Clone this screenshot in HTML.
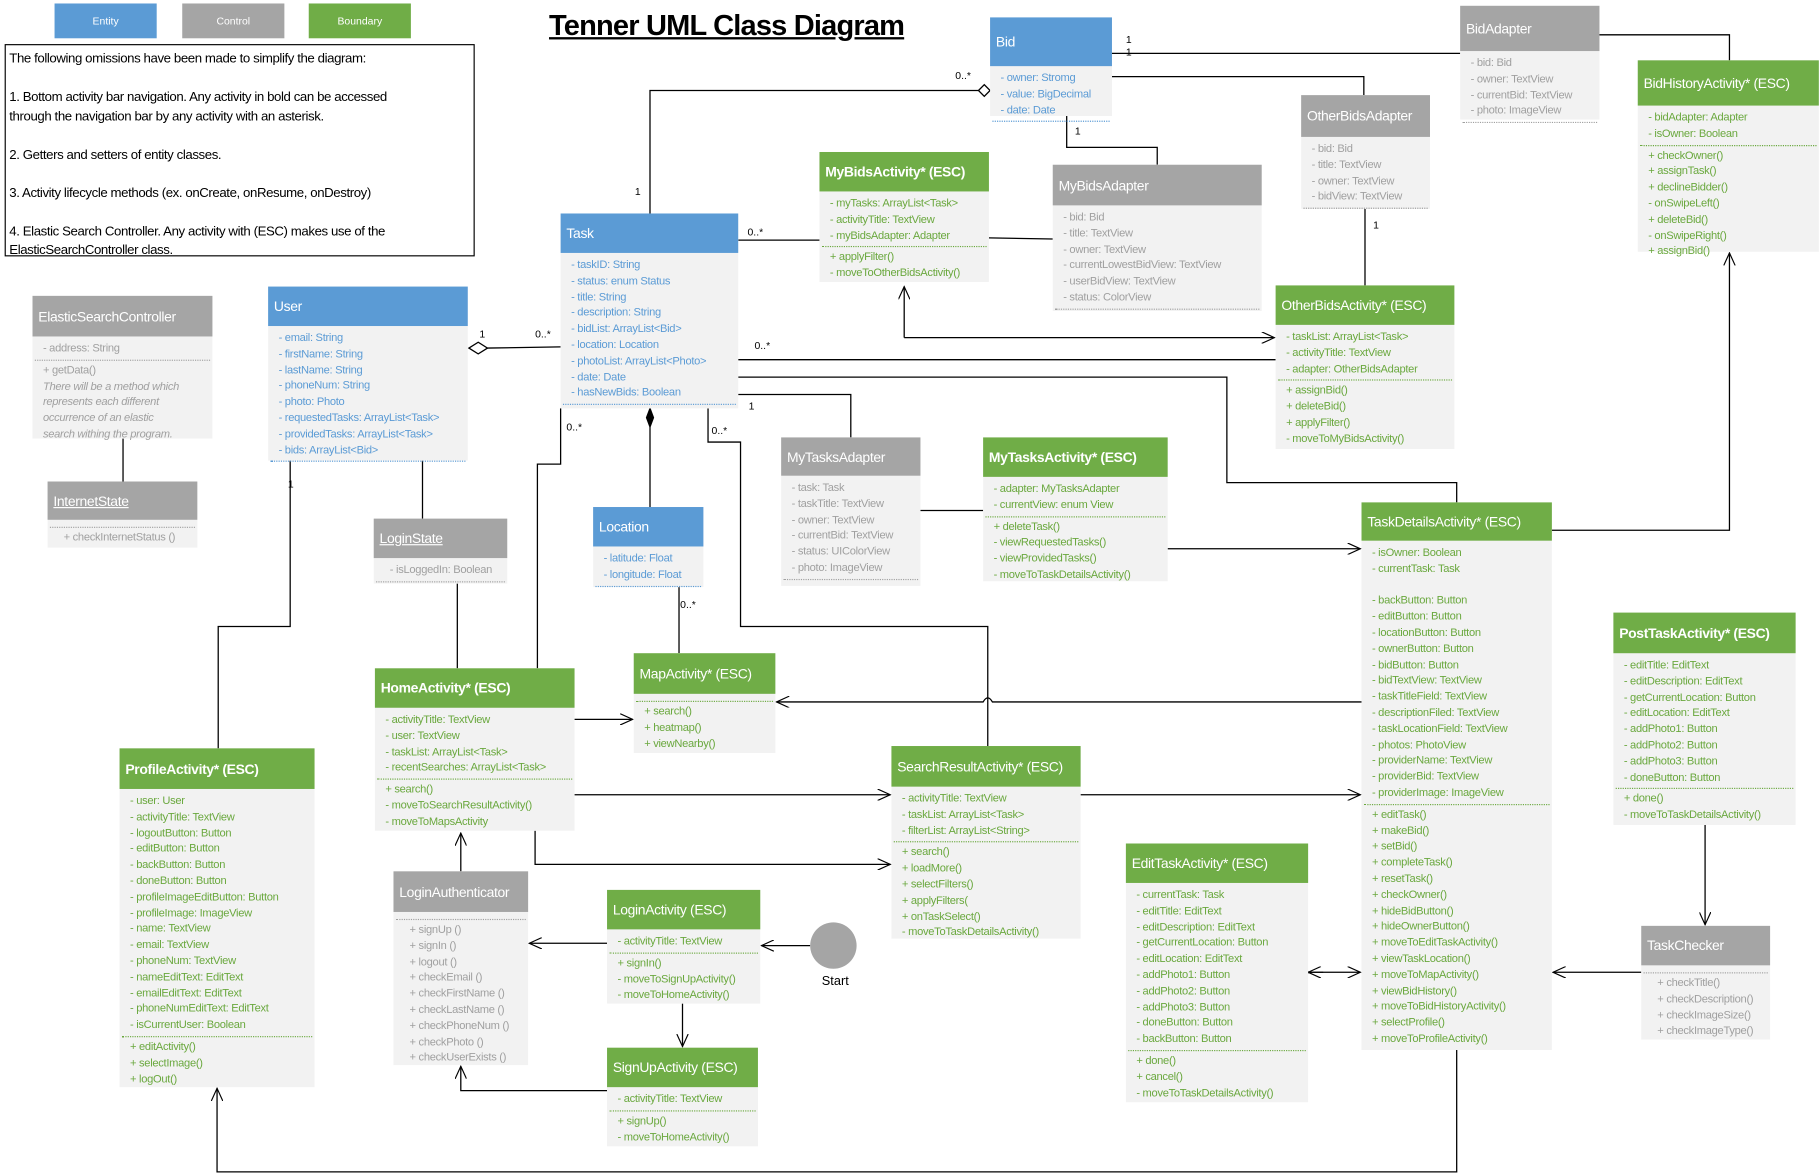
<!DOCTYPE html>
<html><head><meta charset="utf-8">
<style>
html,body{margin:0;padding:0;background:#fff;width:1820px;height:1173px;overflow:hidden}
#s{position:absolute;left:0;top:0;width:1568px;height:1011px;transform:scale(1.16071,1.16024);transform-origin:0 0;font-family:"Liberation Sans",sans-serif}
.b{position:absolute;background:#f2f2f2}
.h{color:#fff;font-size:12px;padding-left:5px;display:flex;align-items:center;white-space:nowrap;letter-spacing:-0.3px}
.c{font-size:9.6px;line-height:13.8px;padding:4px 4px 0 9px;white-space:nowrap;letter-spacing:-0.25px}
.c .s{border-top:1px dotted currentColor;margin:2px -2px 2px -7px;height:0}
.E .h{background:#5b9bd5}.E .c{color:#5b9bd5}
.C .h{background:#a5a5a5}.C .c{color:#a0a0a0}
.B .h{background:#70ad47}.B .c{color:#6aa83e}
.bold{font-weight:bold}
.lg{position:absolute;color:#fff;font-size:9px;display:flex;align-items:center;justify-content:center;height:30px;top:3px;width:88px}
svg{position:absolute;left:0;top:0}
.t{position:absolute;font-size:9px;color:#000}
</style></head><body><div id="s">

<div class="lg" style="left:47px;background:#5b9bd5">Entity</div>
<div class="lg" style="left:157px;background:#a5a5a5">Control</div>
<div class="lg" style="left:266px;background:#70ad47">Boundary</div>
<div style="position:absolute;left:473px;top:8px;font-size:25px;font-weight:bold;text-decoration:underline;letter-spacing:-0.7px;white-space:nowrap">Tenner UML Class Diagram</div>
<div style="position:absolute;left:4px;top:38px;width:405px;height:183px;border:1px solid #000;font-size:11.4px;line-height:16.5px;padding:4px 0 0 3px;box-sizing:border-box;letter-spacing:-0.35px">The following omissions have been made to simplify the diagram:<br><br>1. Bottom activity bar navigation. Any activity in bold can be accessed<br>through the navigation bar by any activity with an asterisk.<br><br>2. Getters and setters of entity classes.<br><br>3. Activity lifecycle methods (ex. onCreate, onResume, onDestroy)<br><br>4. Elastic Search Controller. Any activity with (ESC) makes use of the ElasticSearchController class.</div>

<svg width="1568" height="1011" viewBox="0 0 1568 1011">
<defs><marker id="a" markerWidth="12" markerHeight="10" refX="11" refY="5" orient="auto" markerUnits="userSpaceOnUse"><path d="M0,0 L11,5 L0,10" fill="none" stroke="#000" stroke-width="1"/></marker></defs>
<g fill="none" stroke="#000" stroke-width="1.1">
<polyline points="560,184 560,78 843,78"/><path d="M843,78 L848,73 L853,78 L848,83 Z" fill="#fff"/>
<line x1="958" y1="46" x2="1258" y2="46"/>
<polyline points="958,66 1175,66 1175,82"/>
<polyline points="1378,30 1490,30 1490,52"/>
<polyline points="919,100 919,127 997,127 997,142"/>
<line x1="1176" y1="180" x2="1176" y2="246"/>
<line x1="636" y1="207" x2="706" y2="207"/>
<line x1="852" y1="205" x2="907" y2="206"/>
<polyline points="779,291 779,247" marker-end="url(#a)"/>
<polyline points="779,291 1098,291" marker-end="url(#a)"/>
<line x1="636" y1="310" x2="1099" y2="310"/>
<polyline points="636,325 1057,325 1057,416 1255,416 1255,433"/>
<polyline points="636,340 733,340 733,377"/>
<line x1="420" y1="300" x2="483" y2="299"/><path d="M404,300 L412,295 L420,300 L412,305 Z" fill="#fff"/>
<polyline points="483,352 483,400 463,400 463,576"/>
<line x1="560" y1="368" x2="560" y2="437"/><path d="M560,352 L563,360 L560,368 L557,360 Z" fill="#000"/>
<polyline points="610,352 610,381 638,381 638,540 851,540 851,643"/>
<line x1="585" y1="506" x2="585" y2="563"/>
<line x1="793" y1="440" x2="847" y2="440"/>
<line x1="1006" y1="473" x2="1172" y2="473" marker-end="url(#a)"/>
<line x1="106" y1="378" x2="106" y2="415"/>
<polyline points="250,397 250,540 188,540 188,645"/>
<line x1="364" y1="397" x2="364" y2="447"/>
<line x1="394" y1="503" x2="394" y2="576"/>
<line x1="495" y1="620" x2="545" y2="620" marker-end="url(#a)"/>
<path d="M1173,605 L855,605 Q851,598 847,605 L669,605" marker-end="url(#a)"/>
<line x1="495" y1="685" x2="767" y2="685" marker-end="url(#a)"/>
<line x1="931" y1="685" x2="1172" y2="685" marker-end="url(#a)"/>
<polyline points="461,716 461,745 767,745" marker-end="url(#a)"/>
<line x1="397" y1="751" x2="397" y2="718" marker-end="url(#a)"/>
<line x1="523" y1="813" x2="456" y2="813" marker-end="url(#a)"/>
<line x1="698" y1="815" x2="656" y2="815" marker-end="url(#a)"/>
<line x1="588" y1="865" x2="588" y2="902" marker-end="url(#a)"/>
<polyline points="523,940 397,940 397,919" marker-end="url(#a)"/>
<polyline points="1255,905 1255,1010 187,1010 187,938" marker-end="url(#a)"/>
<line x1="1128" y1="838" x2="1172" y2="838" marker-end="url(#a)" marker-start="url(#a)"/>
<line x1="1414" y1="838" x2="1338" y2="838" marker-end="url(#a)"/>
<line x1="1469" y1="711" x2="1469" y2="797" marker-end="url(#a)"/>
<polyline points="1337,457 1490,457 1490,218" marker-end="url(#a)"/>
</g>
<defs><marker id="b" markerWidth="12" markerHeight="10" refX="1" refY="5" orient="auto" markerUnits="userSpaceOnUse"><path d="M11,0 L0,5 L11,10" fill="none" stroke="#000"/></marker></defs>
<line x1="1128" y1="838" x2="1140" y2="838" stroke="#000" marker-start="url(#b)"/>
<circle cx="718" cy="815" r="20" fill="#a5a5a5"/>
</svg>
<div class="t" style="left:708px;top:840px;font-size:11px">Start</div>
<div class="t" style="left:547px;top:160px">1</div>
<div class="t" style="left:823px;top:60px">0..*</div>
<div class="t" style="left:970px;top:29px">1</div>
<div class="t" style="left:970px;top:40px">1</div>
<div class="t" style="left:926px;top:108px">1</div>
<div class="t" style="left:1183px;top:189px">1</div>
<div class="t" style="left:644px;top:195px">0..*</div>
<div class="t" style="left:650px;top:293px">0..*</div>
<div class="t" style="left:645px;top:345px">1</div>
<div class="t" style="left:413px;top:283px">1</div>
<div class="t" style="left:461px;top:283px">0..*</div>
<div class="t" style="left:488px;top:363px">0..*</div>
<div class="t" style="left:613px;top:366px">0..*</div>
<div class="t" style="left:586px;top:516px">0..*</div>
<div class="t" style="left:248px;top:412px">1</div>

<div class="b E" style="left:853px;top:15px;width:105px;height:85px"><div class="h" style="height:42px">Bid</div><div class="c">- owner: Stromg<br>- value: BigDecimal<br>- date: Date<div class="s"></div></div></div>
<div class="b C" style="left:1258px;top:5px;width:120px;height:98px"><div class="h" style="height:39px">BidAdapter</div><div class="c">- bid: Bid<br>- owner: TextView<br>- currentBid: TextView<br>- photo: ImageView<div class="s"></div></div></div>
<div class="b B" style="left:1411px;top:52px;width:156px;height:165px"><div class="h" style="height:39px">BidHistoryActivity* (ESC)</div><div class="c">- bidAdapter: Adapter<br>- isOwner: Boolean<div class="s"></div>+ checkOwner()<br>+ assignTask()<br>+ declineBidder()<br>- onSwipeLeft()<br>+ deleteBid()<br>- onSwipeRight()<br>+ assignBid()</div></div>
<div class="b C" style="left:1121px;top:82px;width:111px;height:98px"><div class="h" style="height:36px">OtherBidsAdapter</div><div class="c">- bid: Bid<br>- title: TextView<br>- owner: TextView<br>- bidView: TextView<div class="s"></div></div></div>
<div class="b B" style="left:706px;top:131px;width:146px;height:112px"><div class="h bold" style="height:34px">MyBidsActivity* (ESC)</div><div class="c">- myTasks: ArrayList&lt;Task&gt;<br>- activityTitle: TextView<br>- myBidsAdapter: Adapter<div class="s"></div>+ applyFilter()<br>- moveToOtherBidsActivity()</div></div>
<div class="b C" style="left:907px;top:142px;width:180px;height:126px"><div class="h" style="height:35px">MyBidsAdapter</div><div class="c">- bid: Bid<br>- title: TextView<br>- owner: TextView<br>- currentLowestBidView: TextView<br>- userBidView: TextView<br>- status: ColorView<div class="s"></div></div></div>
<div class="b B" style="left:1099px;top:246px;width:154px;height:141px"><div class="h" style="height:34px">OtherBidsActivity* (ESC)</div><div class="c">- taskList: ArrayList&lt;Task&gt;<br>- activityTitle: TextView<br>- adapter: OtherBidsAdapter<div class="s"></div>+ assignBid()<br>+ deleteBid()<br>+ applyFilter()<br>- moveToMyBidsActivity()</div></div>
<div class="b E" style="left:483px;top:184px;width:153px;height:168px"><div class="h" style="height:34px">Task</div><div class="c">- taskID: String<br>- status: enum Status<br>- title: String<br>- description: String<br>- bidList: ArrayList&lt;Bid&gt;<br>- location: Location<br>- photoList: ArrayList&lt;Photo&gt;<br>- date: Date<br>- hasNewBids: Boolean<div class="s"></div></div></div>
<div class="b E" style="left:231px;top:247px;width:172px;height:150px"><div class="h" style="height:34px">User</div><div class="c">- email: String<br>- firstName: String<br>- lastName: String<br>- phoneNum: String<br>- photo: Photo<br>- requestedTasks: ArrayList&lt;Task&gt;<br>- providedTasks: ArrayList&lt;Task&gt;<br>- bids: ArrayList&lt;Bid&gt;<div class="s"></div></div></div>
<div class="b C" style="left:28px;top:255px;width:155px;height:123px"><div class="h" style="height:35px">ElasticSearchController</div><div class="c">- address: String<div class="s"></div>+ getData()<br><i>There will be a method which<br>represents each different<br>occurrence of an elastic<br>search withing the program.</i></div></div>
<div class="b C" style="left:41px;top:415px;width:129px;height:57px"><div class="h" style="height:33px;text-decoration:underline">InternetState</div><div class="c"><div class="s"></div>&nbsp;&nbsp;+ checkInternetStatus ()</div></div>
<div class="b C" style="left:322px;top:447px;width:115px;height:56px"><div class="h" style="height:34px;text-decoration:underline">LoginState</div><div class="c">&nbsp;&nbsp;- isLoggedIn: Boolean<div class="s"></div></div></div>
<div class="b E" style="left:511px;top:437px;width:95px;height:69px"><div class="h" style="height:34px">Location</div><div class="c">- latitude: Float<br>- longitude: Float<div class="s"></div></div></div>
<div class="b C" style="left:673px;top:377px;width:120px;height:128px"><div class="h" style="height:33px">MyTasksAdapter</div><div class="c">- task: Task<br>- taskTitle: TextView<br>- owner: TextView<br>- currentBid: TextView<br>- status: UIColorView<br>- photo: ImageView<div class="s"></div></div></div>
<div class="b B" style="left:847px;top:377px;width:159px;height:124px"><div class="h bold" style="height:34px">MyTasksActivity* (ESC)</div><div class="c">- adapter: MyTasksAdapter<br>- currentView: enum View<div class="s"></div>+ deleteTask()<br>- viewRequestedTasks()<br>- viewProvidedTasks()<br>- moveToTaskDetailsActivity()</div></div>
<div class="b B" style="left:1173px;top:433px;width:164px;height:472px"><div class="h" style="height:33px">TaskDetailsActivity* (ESC)</div><div class="c">- isOwner: Boolean<br>- currentTask: Task<br><br>- backButton: Button<br>- editButton: Button<br>- locationButton: Button<br>- ownerButton: Button<br>- bidButton: Button<br>- bidTextView: TextView<br>- taskTitleField: TextView<br>- descriptionFiled: TextView<br>- taskLocationField: TextView<br>- photos: PhotoView<br>- providerName: TextView<br>- providerBid: TextView<br>- providerImage: ImageView<div class="s"></div>+ editTask()<br>+ makeBid()<br>+ setBid()<br>+ completeTask()<br>+ resetTask()<br>+ checkOwner()<br>+ hideBidButton()<br>+ hideOwnerButton()<br>+ moveToEditTaskActivity()<br>+ viewTaskLocation()<br>+ moveToMapActivity()<br>+ viewBidHistory()<br>+ moveToBidHistoryActivity()<br>+ selectProfile()<br>+ moveToProfileActivity()</div></div>
<div class="b B" style="left:1390px;top:528px;width:157px;height:183px"><div class="h bold" style="height:35px">PostTaskActivity* (ESC)</div><div class="c">- editTitle: EditText<br>- editDescription: EditText<br>- getCurrentLocation: Button<br>- editLocation: EditText<br>- addPhoto1: Button<br>- addPhoto2: Button<br>- addPhoto3: Button<br>- doneButton: Button<div class="s"></div>+ done()<br>- moveToTaskDetailsActivity()</div></div>
<div class="b C" style="left:1414px;top:798px;width:111px;height:98px"><div class="h" style="height:34px">TaskChecker</div><div class="c"><div class="s"></div>&nbsp;&nbsp;+ checkTitle()<br>&nbsp;&nbsp;+ checkDescription()<br>&nbsp;&nbsp;+ checkImageSize()<br>&nbsp;&nbsp;+ checkImageType()</div></div>
<div class="b B" style="left:546px;top:563px;width:122px;height:86px"><div class="h" style="height:35px">MapActivity* (ESC)</div><div class="c"><div class="s"></div>+ search()<br>+ heatmap()<br>+ viewNearby()</div></div>
<div class="b B" style="left:323px;top:576px;width:172px;height:140px"><div class="h bold" style="height:34px">HomeActivity* (ESC)</div><div class="c">- activityTitle: TextView<br>- user: TextView<br>- taskList: ArrayList&lt;Task&gt;<br>- recentSearches: ArrayList&lt;Task&gt;<div class="s"></div>+ search()<br>- moveToSearchResultActivity()<br>- moveToMapsActivity</div></div>
<div class="b B" style="left:103px;top:645px;width:168px;height:292px"><div class="h bold" style="height:35px">ProfileActivity* (ESC)</div><div class="c">- user: User<br>- activityTitle: TextView<br>- logoutButton: Button<br>- editButton: Button<br>- backButton: Button<br>- doneButton: Button<br>- profileImageEditButton: Button<br>- profileImage: ImageView<br>- name: TextView<br>- email: TextView<br>- phoneNum: TextView<br>- nameEditText: EditText<br>- emailEditText: EditText<br>- phoneNumEditText: EditText<br>- isCurrentUser: Boolean<div class="s"></div>+ editActivity()<br>+ selectImage()<br>+ logOut()</div></div>
<div class="b B" style="left:768px;top:643px;width:163px;height:166px"><div class="h" style="height:35px">SearchResultActivity* (ESC)</div><div class="c">- activityTitle: TextView<br>- taskList: ArrayList&lt;Task&gt;<br>- filterList: ArrayList&lt;String&gt;<div class="s"></div>+ search()<br>+ loadMore()<br>+ selectFilters()<br>+ applyFilters(<br>+ onTaskSelect()<br>- moveToTaskDetailsActivity()</div></div>
<div class="b C" style="left:339px;top:751px;width:116px;height:167px"><div class="h" style="height:35px">LoginAuthenticator</div><div class="c"><div class="s"></div>&nbsp;&nbsp;+ signUp ()<br>&nbsp;&nbsp;+ signIn ()<br>&nbsp;&nbsp;+ logout ()<br>&nbsp;&nbsp;+ checkEmail ()<br>&nbsp;&nbsp;+ checkFirstName ()<br>&nbsp;&nbsp;+ checkLastName ()<br>&nbsp;&nbsp;+ checkPhoneNum ()<br>&nbsp;&nbsp;+ checkPhoto ()<br>&nbsp;&nbsp;+ checkUserExists ()</div></div>
<div class="b B" style="left:523px;top:767px;width:132px;height:98px"><div class="h" style="height:34px">LoginActivity (ESC)</div><div class="c">- activityTitle: TextView<div class="s"></div>+ signIn()<br>- moveToSignUpActivity()<br>- moveToHomeActivity()</div></div>
<div class="b B" style="left:523px;top:903px;width:130px;height:85px"><div class="h" style="height:34px">SignUpActivity (ESC)</div><div class="c">- activityTitle: TextView<div class="s"></div>+ signUp()<br>- moveToHomeActivity()</div></div>
<div class="b B" style="left:970px;top:727px;width:157px;height:223px"><div class="h" style="height:34px">EditTaskActivity* (ESC)</div><div class="c">- currentTask: Task<br>- editTitle: EditText<br>- editDescription: EditText<br>- getCurrentLocation: Button<br>- editLocation: EditText<br>- addPhoto1: Button<br>- addPhoto2: Button<br>- addPhoto3: Button<br>- doneButton: Button<br>- backButton: Button<div class="s"></div>+ done()<br>+ cancel()<br>- moveToTaskDetailsActivity()</div></div>
</div></body></html>
